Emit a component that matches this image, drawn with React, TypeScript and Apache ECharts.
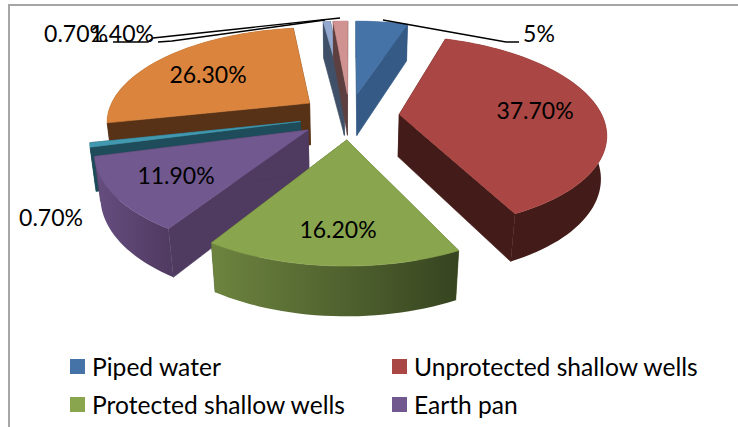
import React, { useEffect, useRef } from "react";
import * as echarts from "echarts";

// Water source shares, clockwise from twelve o'clock.
const sources = [
  "Piped water",
  "Unprotected shallow wells",
  "Protected shallow wells",
  "Earth pan",
  "Spring",
  "River",
  "Borehole",
  "Rain water",
];
const shares = [5, 37.7, 16.2, 11.9, 0.7, 26.3, 0.7, 1.4];
const shareLabels = ["5%", "37.70%", "16.20%", "11.90%", "0.70%", "26.30%", "0.70%", "1.40%"];

const topColors = ["#4572A7", "#AA4643", "#89A54E", "#71588F", "#4198AF", "#DB843D", "#93A9CF", "#D19392"];
const wallColors = ["#355A85", "#431B18", "#4C5C2C", "#4F3A60", "#1E4C5A", "#583217", "#3F5068", "#5E3F3F"];
const rimGradients: Record<number, [string, string]> = {
  2: ["#6D843F", "#364420"],
  3: ["#664E80", "#4F3A60"],
};

// Back-to-front painting order of the exploded slices.
const paintOrder = [6, 7, 0, 5, 1, 4, 3, 2];

// Label anchors in page pixels, and leader lines for the labels outside the pie.
const labelAnchors: [number, number][] = [
  [539, 33], [535, 110], [338, 229], [176, 175], [51, 217], [208, 74], [76, 33], [122, 33],
];
const leaders: [number, number][][] = [
  [[383, 20], [506, 42], [519, 42]],
  [[340, 18], [153, 38], [148, 42], [113, 42]],
  [[325, 20], [172, 41], [158, 42]],
];

// Perspective model of the pie.
const CX = 349.5, CY = 116, RADIUS = 203, EXPLODE = 50, DEPTH = 49;
const SIN_T = 0.46, COS_T = 0.888, CAMERA = 1000;
const FONT = "Lato";

const project = (x: number, y: number, z: number): [number, number] => {
  const s = CAMERA / (CAMERA + y * COS_T - z * SIN_T);
  return [CX + s * x, CY - s * (y * SIN_T + z * COS_T)];
};
const rad = (deg: number) => (deg * Math.PI) / 180;

const total = shares.reduce((a, b) => a + b, 0);
const startAngles = shares.map((_, i) => (shares.slice(0, i).reduce((a, b) => a + b, 0) / total) * 360);

function sliceShapes(index: number, value: number) {
  const a0 = startAngles[index];
  const a1 = a0 + (value / total) * 360;
  const mid = rad((a0 + a1) / 2);
  const ox = EXPLODE * Math.sin(mid), oy = EXPLODE * Math.cos(mid);
  const rimAt = (deg: number) => [ox + RADIUS * Math.sin(rad(deg)), oy + RADIUS * Math.cos(rad(deg))];
  const steps = Math.max(2, Math.ceil((a1 - a0) / 2));
  const rim: number[][] = [];
  for (let k = 0; k <= steps; k++) rim.push(rimAt(a0 + ((a1 - a0) * k) / steps));

  const up = (p: number[]) => project(p[0], p[1], 0);
  const down = (p: number[]) => project(p[0], p[1], -DEPTH);
  const apex = [ox, oy];
  const first = rim[0], last = rim[rim.length - 1];

  const wallFill: any = rimGradients[index]
    ? new echarts.graphic.LinearGradient(0, 0, 1, 0, [
        { offset: 0, color: rimGradients[index][0] },
        { offset: 1, color: rimGradients[index][1] },
      ])
    : wallColors[index];

  const solid = (points: number[][], fill: any, stroke: string) => ({
    type: "polygon",
    shape: { points },
    style: { fill, stroke, lineWidth: 0.6 },
  });

  return [
    solid([up(apex), up(first), down(first), down(apex)], wallColors[index], wallColors[index]),
    solid([up(apex), up(last), down(last), down(apex)], wallColors[index], wallColors[index]),
    solid([...rim.map(up), ...rim.slice().reverse().map(down)], wallFill, "none"),
    solid([up(apex), ...rim.map(up)], topColors[index], topColors[index]),
  ];
}

export default function App() {
  const ref = useRef<HTMLDivElement>(null);

  useEffect(() => {
    const chart = echarts.init(ref.current!, undefined, { renderer: "svg" });

    const sliceSeries = paintOrder.map((index, order) => ({
      type: "custom",
      name: sources[index],
      coordinateSystem: "none",
      z: 2 + order,
      silent: true,
      itemStyle: { color: topColors[index] },
      data: [[shares[index]]],
      renderItem: (_: any, api: any) => ({
        type: "group",
        children: sliceShapes(index, api.value(0)),
      }),
    }));

    const labelSeries = {
      type: "custom",
      name: "labels",
      coordinateSystem: "none",
      z: 20,
      silent: true,
      data: [[0]],
      renderItem: () => ({
        type: "group",
        children: [
          ...leaders.map((points) => ({
            type: "polyline",
            shape: { points },
            style: { fill: "none", stroke: "#000", lineWidth: 1.3 },
          })),
          ...shareLabels.map((text, i) => ({
            type: "text",
            x: labelAnchors[i][0],
            y: labelAnchors[i][1],
            style: {
              text,
              fill: "#000",
              font: `23px ${FONT}`,
              textAlign: "center",
              textVerticalAlign: "middle",
            },
          })),
        ],
      }),
    };

    const legendBase = {
      orient: "vertical",
      top: 354,
      height: 68,
      padding: 0,
      itemWidth: 15,
      itemHeight: 15,
      itemGap: 13,
      icon: "rect",
      selectedMode: false,
      textStyle: { fontFamily: FONT, fontSize: 24.6, lineHeight: 20, color: "#000", padding: [0, 0, 0, 2] },
    };

    chart.setOption({
      animation: false,
      backgroundColor: "#fff",
      legend: [
        { ...legendBase, left: 70, data: [sources[0], sources[2]] },
        { ...legendBase, left: 392, data: [sources[1], sources[3]] },
      ],
      graphic: [
        {
          type: "polyline",
          z: 0,
          shape: { points: [[9, 427], [9, 5], [738, 5]] },
          style: { fill: "none", stroke: "#A6A6A6", lineWidth: 2 },
        },
      ],
      series: [...sliceSeries, labelSeries],
    });

    return () => chart.dispose();
  }, []);

  return <div ref={ref} style={{ position: "fixed", left: 0, top: 0, width: 738, height: 427 }} />;
}
